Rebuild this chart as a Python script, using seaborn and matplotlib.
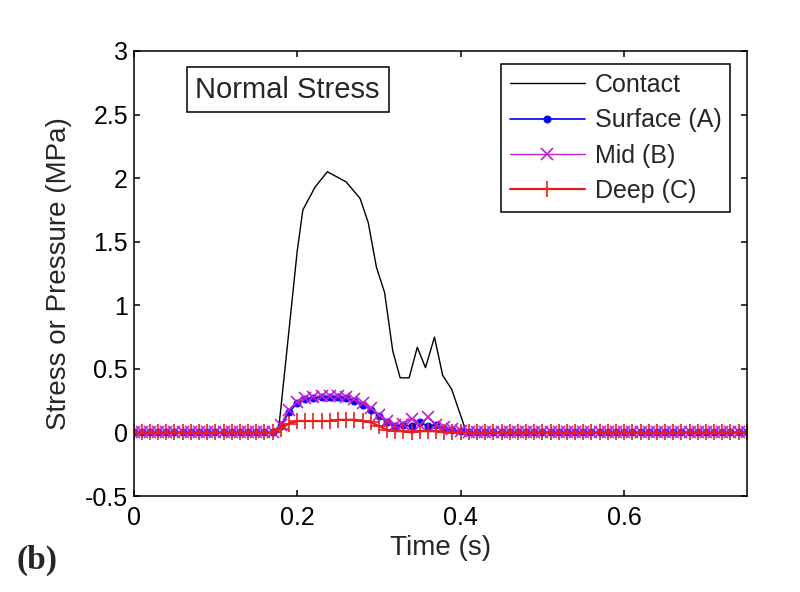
"""Normal stress vs time: contact pressure and stress at three depths."""
import matplotlib
matplotlib.use("Agg")
import matplotlib.pyplot as plt
from matplotlib.ticker import FuncFormatter
import numpy as np
import pandas as pd
import seaborn as sns

# contact pressure trace (own sample times)
contact_time = [0.0, 0.177, 0.190, 0.200, 0.207, 0.222, 0.237, 0.260, 0.277,
                0.287, 0.297, 0.307, 0.317, 0.326, 0.337, 0.347, 0.357, 0.368,
                0.378, 0.389, 0.405, 0.410, 0.75]
contact_stress = [0.0, 0.0, 0.80, 1.42, 1.75, 1.93, 2.05, 1.97, 1.84,
                  1.65, 1.30, 1.10, 0.64, 0.43, 0.43, 0.67, 0.51, 0.75,
                  0.45, 0.34, 0.04, 0.0, 0.0]

# gauge samples every 10 ms, 0 .. 0.75 s
sample_time = np.round(np.arange(76) * 0.01, 2)
pre = [0.0] * 18    # 0.00 - 0.17 s
post = [0.0] * 34   # 0.42 - 0.75 s
surface_a = pre + [0.05, 0.16, 0.23, 0.26, 0.27, 0.28, 0.28, 0.28, 0.27, 0.25,
                   0.22, 0.18, 0.13, 0.08, 0.05, 0.06, 0.05, 0.08, 0.05, 0.06,
                   0.03, 0.02, 0.01, 0.0] + post
mid_b = pre + [0.06, 0.18, 0.24, 0.27, 0.28, 0.29, 0.29, 0.29, 0.28, 0.26,
               0.23, 0.19, 0.14, 0.09, 0.06, 0.07, 0.11, 0.06, 0.12, 0.06,
               0.04, 0.03, 0.01, 0.0] + post
deep_c = pre + [0.03, 0.07, 0.09, 0.09, 0.09, 0.09, 0.09, 0.10, 0.10, 0.10,
                0.09, 0.08, 0.05, 0.02, 0.01, 0.01, 0.0, 0.01, 0.01, 0.01,
                0.0, 0.0, 0.0, 0.0] + post

y_ticks = [-0.5, 0, 0.5, 1, 1.5, 2, 2.5, 3]
x_ticks = [0, 0.2, 0.4, 0.6]

sns.set_style("ticks")
plt.rcParams["font.family"] = ["Liberation Sans", "DejaVu Sans"]
plt.rcParams.update({
    "xtick.direction": "in", "ytick.direction": "in",
    "xtick.top": True, "ytick.right": True,
    "axes.linewidth": 1.1, "axes.edgecolor": "black",
})

gauges = pd.DataFrame({"t": sample_time, "A": surface_a, "B": mid_b, "C": deep_c})

fig = plt.figure(figsize=(8, 5.92), dpi=100)
ax = fig.add_axes([0.167, 0.162, 0.7665, 0.752])

sns.lineplot(x=contact_time, y=contact_stress, ax=ax, color="black", lw=1.0,
             label="Contact")
sns.lineplot(data=gauges, x="t", y="A", ax=ax, color="#0000ff", lw=1.2,
             marker=".", markersize=10, mec="#0000ff", label="Surface (A)")
sns.lineplot(data=gauges, x="t", y="B", ax=ax, color="#c020d0", lw=1.0,
             marker="x", markersize=8, mew=1.2, mec="#c020d0", label="Mid (B)")
sns.lineplot(data=gauges, x="t", y="C", ax=ax, color="#e81e1e", lw=1.6,
             marker="+", markersize=11, mew=1.2, mec="#e81e1e", label="Deep (C)")

ax.set_xlim(0, 0.75)
ax.set_ylim(-0.5, 3)
ax.set_xticks(x_ticks)
ax.set_yticks(y_ticks)
fmt = FuncFormatter(lambda v, _: f"{v:g}")
ax.xaxis.set_major_formatter(fmt)
ax.yaxis.set_major_formatter(fmt)
ax.tick_params(labelsize=18, length=4, width=1.1, colors="black")
ax.tick_params(axis="x", pad=7)
ax.tick_params(axis="y", pad=4)
ax.set_xlabel("Time (s)", fontsize=20, labelpad=4)
ax.set_ylabel("Stress or Pressure (MPa)", fontsize=20, labelpad=9)

ax.text(0.251, 0.913, "Normal Stress", transform=ax.transAxes, fontsize=21,
        ha="center", va="center",
        bbox=dict(boxstyle="square,pad=0.3", fc="white", ec="black", lw=1.1))

leg = ax.legend(loc="upper right", bbox_to_anchor=(0.973, 0.970),
                borderaxespad=0, fontsize=18, numpoints=1, handlelength=3.0,
                handletextpad=0.4, labelspacing=0.45, borderpad=0.35,
                fancybox=False, framealpha=1, edgecolor="black")
leg.get_frame().set_linewidth(1.1)

fig.text(0.021, 0.053, "(b)", fontsize=24, fontweight="bold",
         family=["Liberation Serif", "DejaVu Serif"], va="center", ha="left")

fig.savefig("out.png", dpi=100, facecolor="white")
plt.close(fig)
